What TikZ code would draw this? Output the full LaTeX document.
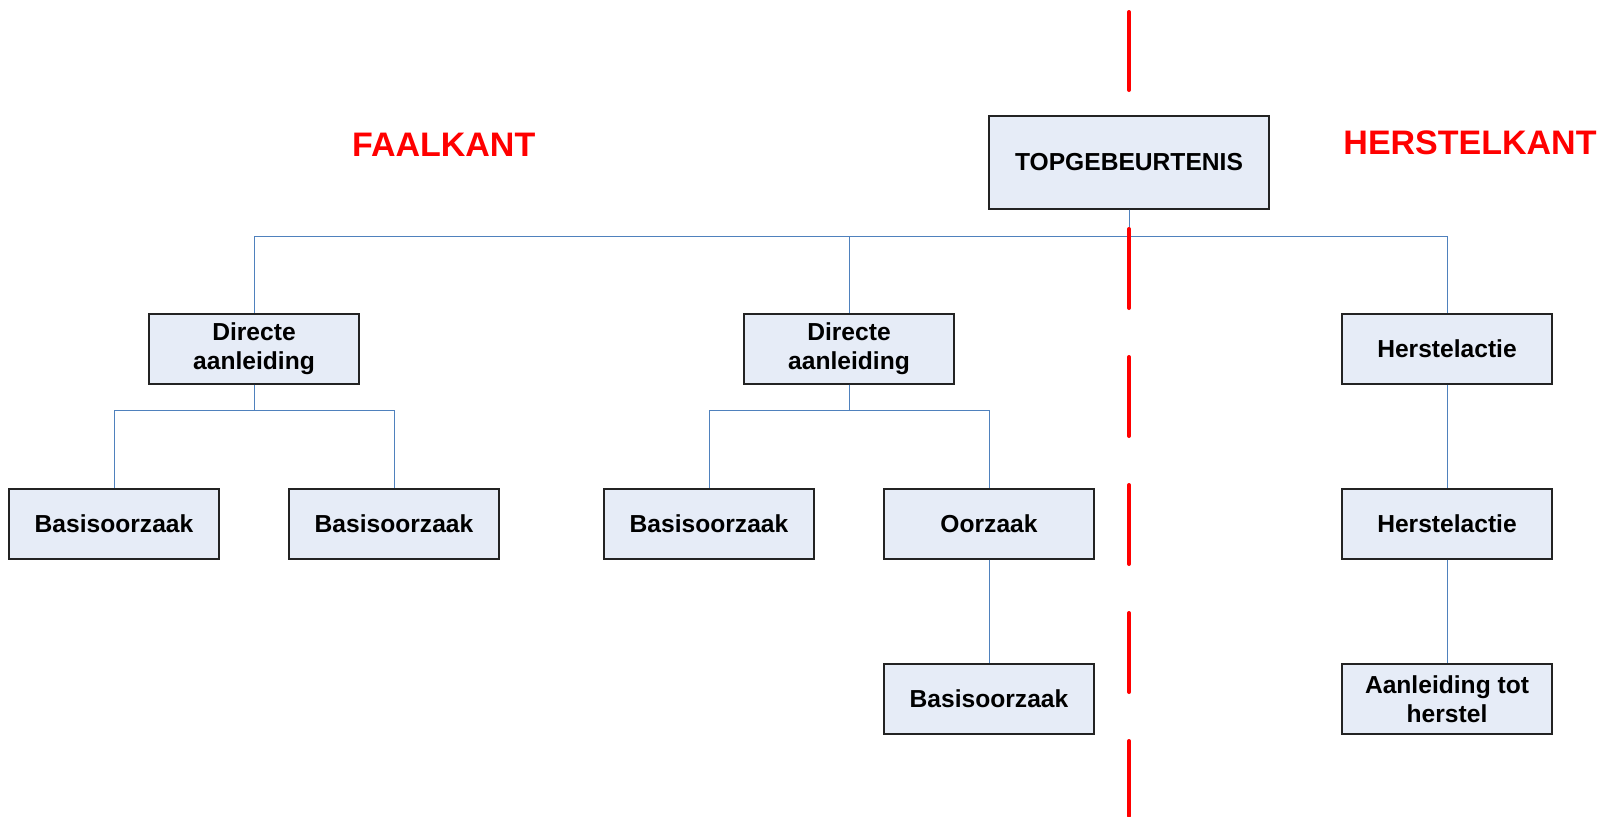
\documentclass[tikz,border=0pt]{standalone}
\usepackage{fontspec}
\setmainfont{Liberation Sans}
\usetikzlibrary{positioning}

\definecolor{boxfill}{RGB}{230,236,247}
\definecolor{boxline}{RGB}{35,35,35}
\definecolor{linkblue}{RGB}{79,129,189}

\begin{document}
\begin{tikzpicture}[x=0.5pt, y=-0.5pt, node distance=87.5pt,
    event/.style={rectangle, draw=boxline, fill=boxfill, line width=0.6pt, minimum width=105pt, minimum height=35pt, inner sep=1pt, align=center, font=\fontsize{12.3}{14.5}\selectfont\bfseries},
    link/.style={draw=linkblue, line width=0.5pt},
    side/.style={text=red, inner sep=0pt, font=\fontsize{17}{20}\selectfont\bfseries},
    divider/.style={draw=red, line width=2pt, line cap=round, dash pattern=on 39.5pt off 24.5pt}]
        \useasboundingbox (0,0) rectangle (1616,816);

        \node[event, minimum width=140pt, minimum height=46.5pt] (top) at (1129,162.5) {TOPGEBEURTENIS};

        \node[side] (faal) at (443.7,144.7) {FAALKANT};
        \node[side] (herstel) at (1470,143) {HERSTELKANT};

        \node[event] (d1) at (254,349) {Directe\\aanleiding};
        \node[event] (d2) at (849,349) {Directe\\aanleiding};
        \node[event] (h1) at (1447,349) {Herstelactie};

        \node[event] (b1) at (114,524) {Basisoorzaak};
        \node[event] (b2) at (394,524) {Basisoorzaak};
        \node[event] (b3) at (709,524) {Basisoorzaak};
        \node[event] (o1) at (989,524) {Oorzaak};
        \node[event, below of=h1] (h2) {Herstelactie};

        \node[event, below of=o1] (b4) {Basisoorzaak};
        \node[event, below of=h2] (h3) {Aanleiding tot\\herstel};

        % Draw tree lines
        \draw[link] (top.south) -- ++(0,27) -| (d1.north);
        \draw[link] (top.south) -- ++(0,27) -| (d2.north);
        \draw[link] (top.south) -- ++(0,27) -| (h1.north);

        \draw[link] (d1.south) -- ++(0,26) -| (b1.north);
        \draw[link] (d1.south) -- ++(0,26) -| (b2.north);
        \draw[link] (d2.south) -- ++(0,26) -| (b3.north);
        \draw[link] (d2.south) -- ++(0,26) -| (o1.north);

        \draw[link] (o1.south) -- (b4.north);
        \draw[link] (h1.south) -- (h2.north);
        \draw[link] (h2.south) -- (h3.north);

        % Dividing line
        \draw[divider] (1129,12) -- (1129,90);
        \draw[divider] (1129,229) -- (1129,816);

    \end{tikzpicture}
\end{document}
